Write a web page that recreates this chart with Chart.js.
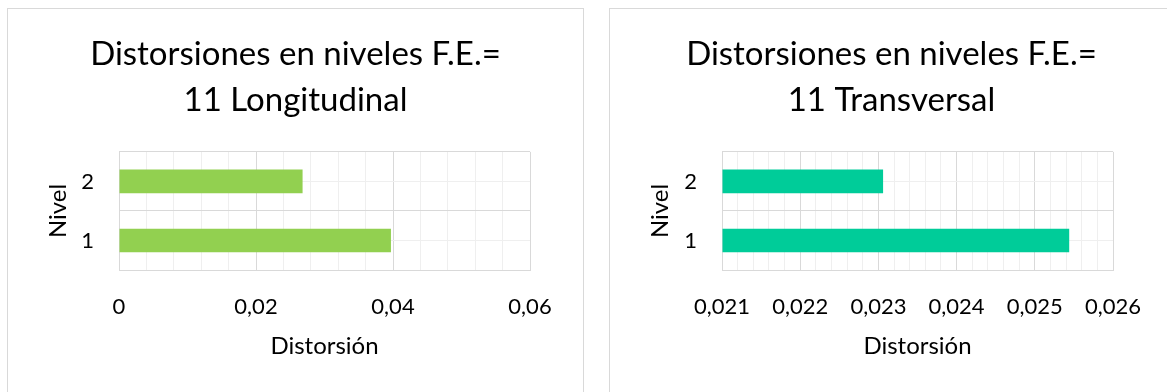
<!DOCTYPE html>
<html lang="es">
<head>
<meta charset="utf-8">
<script src="https://cdn.jsdelivr.net/npm/chart.js@4/dist/chart.umd.min.js"></script>
<style>
    html, body { margin: 0; padding: 0; background: #fff; overflow: hidden; }
    body { width: 1167px; height: 392px; position: relative; font-family: Lato, sans-serif; }
    .panel { position: absolute; top: 8px; height: 400px; border: 1px solid #d9d9d9; box-sizing: border-box; }
    #panel-long  { left: 7px;   width: 577px; }
    #panel-trans { left: 609px; width: 565px; }
    .panel canvas { position: absolute; left: 0; top: 0; }
</style>
</head>
<body>
<div class="panel" id="panel-long"><canvas id="chart-long" width="575" height="383"></canvas></div>
<div class="panel" id="panel-trans"><canvas id="chart-trans" width="563" height="383"></canvas></div>
<script>
// ========== Datos ==========

const niveles          = ['1', '2'];
const distLongitudinal = [0.0397, 0.0268];
const distTransversal  = [0.02544, 0.02306];

// ticks principales (con etiqueta) y paso de las divisiones menores
const ticksLong   = [0, 0.02, 0.04, 0.06];
const ticksTrans  = [0.021, 0.022, 0.023, 0.024, 0.025, 0.026];
const menorLong   = 0.004;
const menorTrans  = 0.0002;

const tituloLong  = ['Distorsiones en niveles F.E.=', '11 Longitudinal'];
const tituloTrans = ['Distorsiones en niveles F.E.=', '11 Transversal'];

// ========== Estilos comunes ==========

const FUENTE = 'Lato';
const GRID_MAYOR = '#d9d9d9';
const GRID_MENOR = '#efefef';

const esMayor = (v, mayores) => mayores.some(m => Math.abs(v - m) < 1e-9);
const formatoComa = v => String(Math.round(v * 1e6) / 1e6).replace('.', ',');

function crearGrafica(id, datos, color, titulo, mayores, pasoMenor, anchoEjeY, margenDer) {
    const min = mayores[0];
    const max = mayores[mayores.length - 1];

    return new Chart(document.getElementById(id), {
        type: 'bar',
        data: {
            labels: niveles,
            datasets: [{
                data: datos,
                base: min,
                backgroundColor: color,
                borderWidth: 0,
                barPercentage: 0.4,
                categoryPercentage: 1,
            }]
        },
        options: {
            indexAxis: 'y',
            responsive: false,
            animation: false,
            layout: { padding: 0 },
            plugins: {
                legend: { display: false },
                tooltip: { enabled: false },
                title: {
                    display: true,
                    text: titulo,
                    color: '#000',
                    font: { family: FUENTE, size: 33, weight: 'normal', lineHeight: 1.4 },
                    padding: { top: 22.5, bottom: 28 },
                },
            },
            scales: {
                x: {
                    type: 'linear',
                    min, max,
                    afterFit: s => { s.height = 122; },
                    ticks: {
                        stepSize: pasoMenor,
                        autoSkip: false,
                        maxRotation: 0,
                        padding: 24,
                        color: '#000',
                        font: { family: FUENTE, size: 22 },
                        callback: v => esMayor(v, mayores) ? formatoComa(v) : '',
                    },
                    grid: {
                        drawTicks: false,
                        color: ctx => esMayor(ctx.tick.value, mayores) ? GRID_MAYOR : GRID_MENOR,
                    },
                    border: { display: true, color: GRID_MAYOR },
                    title: {
                        display: true,
                        text: 'Distorsión',
                        color: '#000',
                        font: { family: FUENTE, size: 24 },
                        padding: { top: 0, bottom: 31 },
                    },
                },
                y: {
                    type: 'category',
                    reverse: true,
                    afterFit: s => { s.width = anchoEjeY; },
                    ticks: {
                        padding: 25,
                        color: '#000',
                        font: { family: FUENTE, size: 22 },
                    },
                    grid: { drawTicks: false, color: GRID_MAYOR, offset: true },
                    border: { display: true, color: GRID_MAYOR },
                    title: {
                        display: true,
                        text: 'Nivel',
                        color: '#000',
                        font: { family: FUENTE, size: 24 },
                        padding: { top: 35.6, bottom: 0 },
                    },
                },
                // eje auxiliar: líneas menores en el centro de cada categoría y margen derecho
                yMenor: {
                    type: 'category',
                    position: 'right',
                    offset: true,
                    afterFit: s => { s.width = margenDer; },
                    ticks: { display: false },
                    grid: { drawTicks: false, color: GRID_MENOR, offset: false },
                    border: { display: false },
                },
            }
        }
    });
}

// ========== Init ==========

crearGrafica('chart-long',  distLongitudinal, '#92d050', tituloLong,  ticksLong,  menorLong,  111, 53);
crearGrafica('chart-trans', distTransversal,  '#00cc99', tituloTrans, ticksTrans, menorTrans, 112, 60);
</script>
</body>
</html>
